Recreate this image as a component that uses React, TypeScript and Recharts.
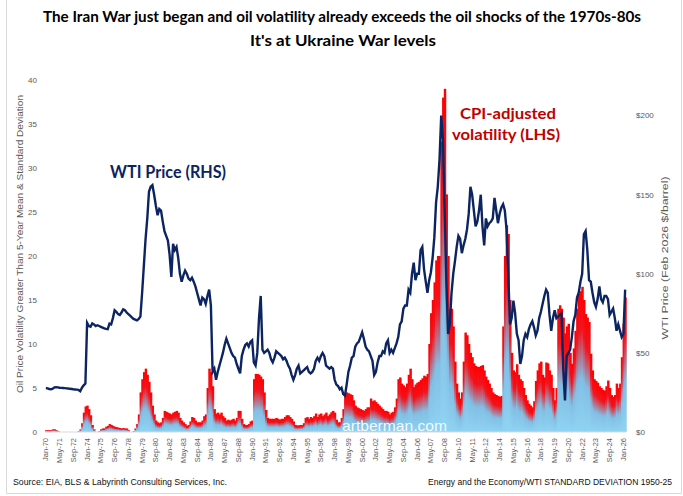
import React from 'react';
import { ComposedChart, Bar, Line, XAxis, YAxis } from 'recharts';

// bimonthly sampling, Jan-70 .. Mar-26
const MONTHS = ['Jan', 'Mar', 'May', 'Jul', 'Sep', 'Nov'];
const FIRST_YEAR = 1970;

// CPI-adjusted volatility (LHS), one row per year
const volatility = [
  0.2, 0.2, 0.2, 0.2, 0.3, 0.3, // 1970
  0.2, 0.1, 0, 0, 0, 0,
  0, 0, 0, 0, 0, 0,
  0, 0.1, 0.3, 1.0, 2.2, 2.9,
  3.0, 2.6, 1.9, 0.8, 0.3, 0,
  0, 0.1, 0.3, 0.4, 0.4, 0.6, // 1975
  0.7, 0.9, 0.8, 0.7, 0.6, 0.55,
  0.5, 0.45, 0.4, 0.45, 0.4, 0.4,
  0.2, 0, 0, 0.1, 0.4, 0.9,
  2.0, 4.5, 6.0, 6.8, 7.2, 6.5,
  5.7, 4.5, 3.0, 2.0, 1.3, 1.1, // 1980
  1.0, 1.1, 1.6, 2.4, 2.3, 2.2,
  2.1, 2.0, 2.2, 2.3, 2.4, 2.2,
  1.6, 1.3, 1.1, 0.9, 0.7, 0.8,
  1.2, 1.7, 1.6, 1.3, 1.1, 1.1,
  1.1, 1.3, 1.8, 2.0, 5.0, 7.2, // 1985
  6.8, 5.2, 2.6, 2.1, 2.2, 2.0,
  2.2, 1.8, 1.6, 1.3, 1.4, 1.3,
  1.4, 1.5, 1.3, 1.6, 2.4, 2.4,
  1.5, 0.9, 0.8, 0.8, 0.9, 1.2,
  1.3, 6.0, 6.6, 6.6, 6.5, 6.3, // 1990
  6.0, 4.5, 2.5, 1.6, 1.5, 1.5,
  1.5, 1.5, 1.6, 1.5, 1.4, 1.5,
  1.5, 1.7, 1.9, 1.9, 1.7, 1.5,
  1.2, 0.8, 0.75, 0.75, 0.8, 0.8,
  1.0, 1.6, 1.7, 1.5, 1.7, 1.6, // 1995
  1.8, 2.1, 1.7, 2.0, 2.1, 1.8,
  2.0, 2.2, 1.8, 2.0, 2.25, 2.4,
  2.2, 1.4, 1.1, 1.1, 1.6, 2.6,
  4.4, 4.5, 4.4, 4.3, 4.2, 3.6,
  3.0, 2.8, 2.7, 2.6, 2.5, 2.4, // 2000
  2.6, 2.8, 2.8, 3.8, 3.5, 3.6,
  3.4, 3.2, 3.0, 2.8, 2.6, 2.4,
  2.4, 2.3, 2.0, 2.2, 2.3, 2.8,
  3.8, 6.0, 6.2, 5.5, 5.3, 5.1,
  5.5, 6.5, 7.2, 6.0, 5.1, 5.4, // 2005
  5.6, 5.7, 5.9, 6.1, 6.4, 6.3,
  6.6, 10, 13.5, 15, 17, 19.5,
  20, 20, 33, 38, 39, 27,
  20, 14, 14, 12, 8, 5.5,
  4.5, 3.8, 4.5, 8, 11.3, 11, // 2010
  10, 9, 8.5, 7.8, 7.5, 7.4,
  7.4, 7.5, 7.6, 7.0, 6.3, 5.9,
  5.5, 5.0, 4.5, 4.3, 4.2, 4.1,
  4.0, 4.1, 12, 20, 23.5, 22.5,
  15, 9, 7, 6.8, 7.7, 6.5, // 2015
  6.0, 5.8, 5.0, 4.2, 3.6, 3.2,
  3.0, 2.8, 3.5, 5.8, 7.0, 7.8,
  8.0, 6.5, 6.2, 7.9, 7.8, 7.0,
  6.5, 5.0, 3.6, 5.0, 14.0, 14.4,
  14, 13, 11.2, 12, 12.3, 9, // 2020
  7.75, 9.5, 11.5, 14, 15.7, 16,
  16.5, 15, 13.4, 13, 12.5, 8.9,
  7, 6, 5.8, 5.6, 5.2, 5.0,
  4.8, 4.7, 5.2, 5.85, 5.0, 4.2,
  4.0, 4.2, 5.5, 5.0, 5.5, 8.5, // 2025
  12.3, 15.3,
];

// WTI price in Feb 2026 $/barrel (RHS)
const wtiPrice = [
  27.8, 27.6, 27.2, 27.0, 27.4, 28.2, // 1970
  28.3, 28.2, 28.0, 27.9, 27.8, 27.7,
  27.6, 27.5, 27.3, 27.2, 27.0, 26.9,
  26.8, 26.6, 25.8, 28.0, 29.5, 30.7,
  69.0, 67.0, 66.5, 68.6, 68.0, 67.0,
  67.5, 67.0, 66.5, 66.0, 65.5, 65.2, // 1975
  65.0, 68.5, 68.0, 72.0, 77.0, 76.0,
  74.5, 74.0, 75.5, 77.5, 77.0, 75.5,
  74.5, 73.5, 72.5, 71.5, 71.0, 70.6,
  71.5, 73.0, 88.0, 105, 122, 135,
  152, 155, 156, 150, 143, 137, // 1980
  141, 140, 133, 127, 124, 121,
  112, 98, 119, 115, 117, 110,
  100, 95, 99, 102, 100, 97,
  96, 97.5, 95, 92, 88, 84,
  80, 85, 84, 81, 86, 90, // 1985
  80, 38, 40, 33, 38, 42,
  46, 50, 55, 59, 56, 53,
  50, 48, 47, 43, 40, 37,
  48, 52, 55, 56, 54, 57,
  58, 44, 42, 50, 72, 86, // 1990
  52, 50, 51, 52, 50, 46,
  44, 47, 51, 50, 49, 48,
  46, 47, 45, 42, 40, 36,
  33, 36, 40, 42, 37, 38,
  39, 40, 41, 38, 37, 38, // 1995
  40, 45, 47, 45, 48, 50,
  48, 42, 41, 40, 41, 40,
  33, 30, 29, 27, 28, 24,
  23, 30, 38, 42, 47, 48,
  54, 56, 57, 60, 63, 59, // 2000
  54, 52, 51, 48, 45, 36,
  38, 44, 48, 48, 51, 50,
  56, 58, 50, 52, 50, 53,
  56, 60, 68, 70, 78, 80,
  80, 90, 88, 100, 107, 96, // 2005
  100, 100, 115, 117, 103, 95,
  88, 96, 101, 110, 123, 145,
  155, 172, 200, 185, 140, 95,
  62, 68, 88, 100, 108, 117,
  124, 122, 113, 118, 122, 128, // 2010
  138, 155, 150, 140, 130, 133,
  140, 150, 130, 118, 135, 130,
  132, 133, 135, 148, 140, 132,
  138, 142, 144, 140, 128, 100,
  68, 72, 83, 75, 62, 58, // 2015
  43, 48, 58, 62, 60, 65,
  68, 70, 66, 61, 64, 72,
  76, 81, 86, 90, 88, 74,
  64, 72, 77, 72, 73, 74,
  75, 40, 20, 48, 50, 52, // 2020
  60, 70, 74, 85, 88, 95,
  100, 125, 127, 115, 96, 95,
  88, 82, 79, 84, 92, 84,
  82, 86, 86, 84, 74, 76,
  78, 72, 64, 68, 64, 60, // 2025
  62, 90,
];

const leftTicks = [0, 5, 10, 15, 20, 25, 30, 35, 40];
const rightTicks = [0, 50, 100, 150, 200];

const labels = volatility.map((_, i) => {
  const yr = FIRST_YEAR + Math.floor(i / 6);
  return `${MONTHS[i % 6]}-${String(yr % 100).padStart(2, '0')}`;
});

const data = labels.map((label, i) => ({ label, vol: volatility[i], price: wtiPrice[i] }));

const NAVY = '#0C2461';
const GREY = '#595959';

const GradientBar = (props: any) => {
  const { x, y, width, height } = props;
  if (!height || height <= 0) return null;
  return <rect x={x} y={y} width={width + 0.45} height={height} fill="url(#volGrad)" />;
};

const XTick = (props: any) => {
  const { x, y, payload } = props;
  return (
    <text
      transform={`translate(${x},${y}) rotate(-90)`}
      textAnchor="end"
      dy="0.33em"
      fontSize={7.5}
      fill={GREY}
      fontFamily="'Liberation Sans', Arial, sans-serif"
    >
      {payload.value}
    </text>
  );
};

export default function App() {
  const font = "'Liberation Sans', Arial, sans-serif";
  const bold = "Lato, 'Liberation Sans', sans-serif";
  return (
    <div style={{ position: 'absolute', left: 0, top: 0, width: 683, height: 496, background: '#fff', overflow: 'hidden' }}>
      <svg width={0} height={0} style={{ position: 'absolute' }}>
        <defs>
          <linearGradient id="volGrad" x1="0" y1="0" x2="0" y2="1">
            <stop offset="0%" stopColor="#FF0000" />
            <stop offset="28%" stopColor="#F2131C" />
            <stop offset="62%" stopColor="#82BEE4" />
            <stop offset="100%" stopColor="#8FD3F2" />
          </linearGradient>
        </defs>
      </svg>

      <div style={{ position: 'absolute', left: 0, top: 0 }}>
        <ComposedChart
          width={683}
          height={496}
          data={data}
          margin={{ top: 80, right: 7, left: 5, bottom: 24 }}
          barCategoryGap={0}
          barGap={0}
        >
          <XAxis
            dataKey="label"
            interval={7}
            height={40}
            tickLine={false}
            tickSize={0}
            tickMargin={6}
            axisLine={{ stroke: '#D9D9D9' }}
            tick={<XTick />}
          />
          <YAxis
            yAxisId="left"
            domain={[0, 40]}
            ticks={leftTicks}
            allowDataOverflow
            width={40}
            axisLine={false}
            tickLine={false}
            tickSize={0}
            tickMargin={8}
            tick={{ fontSize: 8, fill: GREY, fontFamily: font }}
          />
          <YAxis
            yAxisId="right"
            orientation="right"
            domain={[0, 222.5]}
            ticks={rightTicks}
            allowDataOverflow
            width={50}
            axisLine={false}
            tickLine={false}
            tickSize={0}
            tickMargin={10}
            tickFormatter={(v: number) => `$${v}`}
            tick={{ fontSize: 8, fill: GREY, fontFamily: font }}
          />
          <Bar yAxisId="left" dataKey="vol" shape={<GradientBar />} isAnimationActive={false} />
          <Line
            yAxisId="right"
            dataKey="price"
            type="linear"
            stroke={NAVY}
            strokeWidth={2.4}
            dot={false}
            isAnimationActive={false}
          />
        </ComposedChart>
      </div>

      <svg width={683} height={496} style={{ position: 'absolute', left: 0, top: 0, pointerEvents: 'none' }}>
        <line x1={6.5} y1={0} x2={6.5} y2={493.5} stroke="#D9D9D9" />
        <line x1={681.5} y1={0} x2={681.5} y2={493.5} stroke="#D9D9D9" />
        <line x1={6.5} y1={493.5} x2={681.5} y2={493.5} stroke="#D9D9D9" />

        <text x={342} y={22} textAnchor="middle" fontFamily={bold} fontWeight={700} fontSize={15} fill="#000" textLength={598} lengthAdjust="spacingAndGlyphs">
          The Iran War just began and oil volatility already exceeds the oil shocks of the 1970s-80s
        </text>
        <text x={343} y={46} textAnchor="middle" fontFamily={bold} fontWeight={700} fontSize={15} fill="#000" textLength={186} lengthAdjust="spacingAndGlyphs">
          It's at Ukraine War levels
        </text>

        <text x={110} y={178} fontFamily={bold} fontWeight={700} fontSize={16.5} fill={NAVY} textLength={116} lengthAdjust="spacingAndGlyphs">
          WTI Price (RHS)
        </text>
        <text x={508} y={119} textAnchor="middle" fontFamily={bold} fontWeight={700} fontSize={16} fill="#C00000" textLength={96} lengthAdjust="spacingAndGlyphs">
          CPI-adjusted
        </text>
        <text x={506} y={140} textAnchor="middle" fontFamily={bold} fontWeight={700} fontSize={16} fill="#C00000" textLength={108} lengthAdjust="spacingAndGlyphs">
          volatility (LHS)
        </text>

        <text x={342} y={431} fontFamily={font} fontSize={15} fill="#FFFFFF" fillOpacity={0.92} textLength={105} lengthAdjust="spacingAndGlyphs">
          artberman.com
        </text>

        <text transform="translate(22.5,244) rotate(-90)" textAnchor="middle" fontFamily={font} fontSize={9} fill={GREY} textLength={298} lengthAdjust="spacingAndGlyphs">
          Oil Price Volatility Greater Than 5-Year Mean &amp; Standard Deviation
        </text>
        <text transform="translate(667.5,258) rotate(-90)" textAnchor="middle" fontFamily={font} fontSize={9} fill={GREY} textLength={163} lengthAdjust="spacingAndGlyphs">
          WTI Price (Feb 2026 $/barrel)
        </text>

        <text x={13} y={485} fontFamily={font} fontSize={8.5} fill="#111" textLength={214} lengthAdjust="spacingAndGlyphs">
          Source: EIA, BLS &amp; Labyrinth Consulting Services, Inc.
        </text>
        <text x={672} y={485} textAnchor="end" fontFamily={font} fontSize={8.5} fill="#111" textLength={244} lengthAdjust="spacingAndGlyphs">
          Energy and the Economy/WTI STANDARD DEVIATION 1950-25
        </text>
      </svg>
    </div>
  );
}
